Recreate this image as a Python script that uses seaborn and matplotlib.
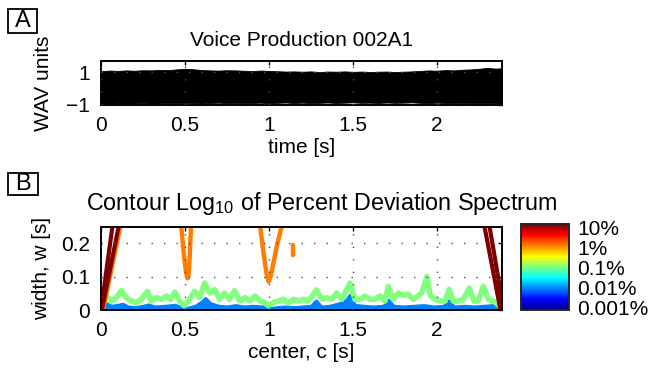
import matplotlib
matplotlib.use("Agg")
import matplotlib.pyplot as plt
import matplotlib.patches as mpatches
from matplotlib.colors import Normalize, LinearSegmentedColormap
from matplotlib.cm import ScalarMappable
import seaborn as sns

# ---- panel A: waveform envelope ----
wav_time = [0.0, 0.05, 0.1, 0.15, 0.2, 0.25, 0.3, 0.35, 0.4, 0.45, 0.5, 0.55, 0.6,
            0.65, 0.7, 0.75, 0.8, 0.85, 0.9, 0.95, 1.0, 1.05, 1.1, 1.15, 1.2, 1.25,
            1.3, 1.35, 1.4, 1.45, 1.5, 1.55, 1.6, 1.65, 1.7, 1.75, 1.8, 1.85, 1.9,
            1.95, 2.0, 2.05, 2.1, 2.15, 2.2, 2.25, 2.3, 2.35, 2.387]
wav_upper = [1.05, 1.09, 1.07, 1.1, 1.08, 1.11, 1.1, 1.13, 1.12, 1.16, 1.2, 1.17, 1.12,
             1.1, 1.09, 1.11, 1.1, 1.08, 1.06, 1.09, 1.07, 1.05, 1.03, 1.04, 1.02, 1.04,
             1.0, 1.03, 1.02, 1.04, 1.01, 1.03, 1.0, 1.02, 1.03, 1.0, 1.02, 1.04, 1.07,
             1.1, 1.08, 1.12, 1.1, 1.14, 1.16, 1.2, 1.25, 1.21, 1.23]
wav_lower = [-0.9, -0.92, -0.9, -0.93, -0.91, -0.89, -0.92, -0.9, -0.88, -0.9, -0.87, -0.89, -0.91,
             -0.88, -0.86, -0.89, -0.87, -0.9, -0.88, -0.86, -0.89, -0.87, -0.85, -0.88, -0.86, -0.89,
             -0.87, -0.85, -0.88, -0.86, -0.84, -0.87, -0.86, -0.88, -0.85, -0.87, -0.86, -0.84, -0.87,
             -0.89, -0.86, -0.88, -0.9, -0.87, -0.89, -0.9, -0.88, -0.9, -0.91]

# ---- panel B: contour paths (center c, width w) ----
green_c = [0.0, 0.015, 0.032, 0.061, 0.091, 0.121, 0.15, 0.18, 0.21, 0.24, 0.276, 0.30, 0.33,
           0.36, 0.39, 0.415, 0.44, 0.468, 0.494, 0.52, 0.557, 0.587, 0.617, 0.647, 0.677,
           0.706, 0.736, 0.766, 0.795, 0.827, 0.857, 0.887, 0.917, 0.946, 0.976, 0.996,
           1.026, 1.055, 1.085, 1.115, 1.145, 1.175, 1.204, 1.234, 1.284, 1.314, 1.343,
           1.373, 1.403, 1.433, 1.482, 1.512, 1.542, 1.572, 1.601, 1.631, 1.661, 1.69,
           1.71, 1.74, 1.77, 1.80, 1.83, 1.86, 1.909, 1.94, 1.96, 1.988, 2.018, 2.048,
           2.073, 2.097, 2.127, 2.157, 2.192, 2.22, 2.246, 2.276, 2.306, 2.335, 2.37, 2.387]
green_w = [0.005, 0.03, 0.042, 0.027, 0.037, 0.058, 0.037, 0.027, 0.022, 0.032, 0.056, 0.027, 0.037,
           0.032, 0.042, 0.032, 0.054, 0.027, 0.013, 0.027, 0.056, 0.037, 0.081, 0.051, 0.061,
           0.032, 0.051, 0.032, 0.058, 0.027, 0.037, 0.027, 0.042, 0.027, 0.022, 0.013,
           0.022, 0.027, 0.032, 0.022, 0.032, 0.027, 0.032, 0.027, 0.060, 0.032, 0.037,
           0.032, 0.051, 0.032, 0.081, 0.032, 0.032, 0.042, 0.032, 0.032, 0.042, 0.027,
           0.071, 0.032, 0.051, 0.044, 0.047, 0.032, 0.051, 0.100, 0.044, 0.032, 0.027, 0.027,
           0.062, 0.027, 0.027, 0.032, 0.066, 0.027, 0.027, 0.071, 0.032, 0.027, 0.013, 0.005]

blue_c = [0, 0.03, 0.06, 0.1, 0.13, 0.16, 0.2, 0.25, 0.28, 0.32, 0.38, 0.44, 0.5, 0.56, 0.6,
          0.62, 0.65, 0.7, 0.75, 0.8, 0.85, 0.9, 0.96, 1.0, 1.05, 1.1, 1.15, 1.2, 1.25, 1.28,
          1.31, 1.36, 1.42, 1.46, 1.48, 1.51, 1.56, 1.62, 1.68, 1.71, 1.74, 1.8, 1.86, 1.92,
          1.98, 2.04, 2.07, 2.1, 2.16, 2.22, 2.28, 2.33, 2.37, 2.387]
blue_w = [0.012, 0.02, 0.012, 0.015, 0.018, 0.01, 0.008, 0.012, 0.016, 0.01, 0.012, 0.015, 0.004,
          0.012, 0.025, 0.035, 0.02, 0.012, 0.01, 0.014, 0.01, 0.012, 0.01, 0.005, 0.008, 0.01,
          0.008, 0.01, 0.012, 0.028, 0.01, 0.012, 0.02, 0.03, 0.045, 0.015, 0.012, 0.01, 0.012,
          0.03, 0.012, 0.01, 0.012, 0.014, 0.01, 0.012, 0.028, 0.01, 0.012, 0.01, 0.012, 0.014,
          0.025, 0.005]

orange_paths = {
    "u_05": ([0.478, 0.487, 0.497, 0.507, 0.515, 0.522, 0.527, 0.531, 0.536],
             [0.25, 0.2, 0.15, 0.11, 0.095, 0.11, 0.15, 0.2, 0.25]),
    "v_10": ([0.948, 0.96, 0.973, 0.987, 0.998, 1.012, 1.03, 1.05, 1.075],
             [0.25, 0.2, 0.15, 0.105, 0.085, 0.105, 0.15, 0.2, 0.25]),
    "blob": ([1.14, 1.14], [0.165, 0.195]),
    "edge_left": ([0.012, 0.115], [0.0, 0.25]),
}
darkred_paths = {
    "left_a": ([0.0, 0.068], [0.0, 0.25]),
    "left_b": ([0.005, 0.105], [0.0, 0.25]),
    "right_a": ([2.283, 2.378], [0.25, 0.0]),
    "right_b": ([2.313, 2.387], [0.25, 0.03]),
}

# log10 level of each contour family
level_darkred, level_orange, level_green, level_blue = 1, 0, -1, -2

cbar_ticks = [1, 0, -1, -2, -3]
cbar_labels = ["10%", "1%", "0.1%", "0.01%", "0.001%"]
x_ticks = [0, 0.5, 1, 1.5, 2]
x_tick_labels = ["0", "0.5", "1", "1.5", "2"]

sns.set_style("white")
plt.rcParams["font.family"] = ["Liberation Sans", "DejaVu Sans"]
plt.rcParams["mathtext.fontset"] = "custom"
plt.rcParams["mathtext.rm"] = "Liberation Sans"
plt.rcParams["mathtext.default"] = "regular"
plt.rcParams["font.size"] = 15
plt.rcParams["text.color"] = "black"
plt.rcParams["axes.labelcolor"] = "black"

# MATLAB style jet
cmap = LinearSegmentedColormap("mjet", {
    "red": [(0, 0, 0), (0.375, 0, 0), (0.625, 1, 1), (0.875, 1, 1), (1, 0.5, 0.5)],
    "green": [(0, 0, 0), (0.125, 0, 0), (0.375, 1, 1), (0.625, 1, 1), (0.875, 0, 0), (1, 0, 0)],
    "blue": [(0, 0.5, 0.5), (0.125, 1, 1), (0.375, 1, 1), (0.625, 0, 0), (1, 0, 0)],
})
norm = Normalize(-3, 1)

fig = plt.figure(figsize=(6.49, 3.73), dpi=100)
W, H = 649, 373


def fig_rect(x0, y0, x1, y1):
    return [x0 / W, 1 - y1 / H, (x1 - x0) / W, (y1 - y0) / H]


axA = fig.add_axes(fig_rect(101, 61, 502, 105))
axB = fig.add_axes(fig_rect(101, 227, 502, 310))
cax = fig.add_axes(fig_rect(521, 224, 569, 310))

grid_kw = dict(color="0.3", linestyle=(0, (1, 8)), linewidth=1.0)

# panel A
axA.fill_between(wav_time, wav_lower, wav_upper, color="black", linewidth=0.6, zorder=1)
axA.set_xlim(0, 2.387)
axA.set_ylim(-1, 1.67)
axA.set_yticks([-1, 1])
axA.set_yticklabels(["\u22121", "1"])
axA.set_xticks(x_ticks)
axA.set_xticklabels(x_tick_labels)
axA.set_title("Voice Production 002A1", pad=11, fontsize=15)
axA.set_xlabel("time [s]")
axA.set_ylabel("WAV units")
axA.xaxis.set_label_coords(0.5, -0.74)
axA.yaxis.set_label_coords(-0.12, 0.5)

# panel B
axB.fill_between(blue_c, 0, blue_w, color=cmap(norm(level_blue)), linewidth=2.5,
                 edgecolor=cmap(norm(level_blue)), zorder=1)
sns.lineplot(x=green_c, y=green_w, sort=False, estimator=None, ax=axB,
             color=cmap(norm(level_green)), linewidth=4.0, solid_joinstyle="round",
             solid_capstyle="round")
for c, w in orange_paths.values():
    sns.lineplot(x=c, y=w, sort=False, estimator=None, ax=axB,
                 color=cmap(norm(level_orange)), linewidth=3.2, solid_capstyle="round")
for c, w in darkred_paths.values():
    sns.lineplot(x=c, y=w, sort=False, estimator=None, ax=axB,
                 color=cmap(norm(level_darkred)), linewidth=3.0)
axB.set_xlim(0, 2.387)
axB.set_ylim(0, 0.249)
axB.set_xticks(x_ticks)
axB.set_xticklabels(x_tick_labels)
axB.set_yticks([0, 0.1, 0.2])
axB.set_yticklabels(["0", "0.1", "0.2"])
axB.set_title("Contour Log$_{10}$ of Percent Deviation Spectrum", x=0.551, pad=12,
              fontsize=16.8)
axB.set_xlabel("center, c [s]")
axB.set_ylabel("width, w [s]")
axB.xaxis.set_label_coords(0.5, -0.40)
axB.yaxis.set_label_coords(-0.125, 0.5)

for ax in (axA, axB):
    ax.grid(True, **grid_kw)
    ax.set_axisbelow(False)
    ax.tick_params(direction="in", length=3, width=1, top=True, right=True,
                   labelsize=15, pad=8, colors="black")
    for s in ax.spines.values():
        s.set_linewidth(1.4)
        s.set_color("black")

# colorbar
cb = fig.colorbar(ScalarMappable(norm=Normalize(-3.1, 1.15), cmap=cmap), cax=cax,
                  ticks=cbar_ticks)
cb.ax.set_yticklabels(cbar_labels)
cb.ax.tick_params(length=0, pad=6, labelsize=15, colors="black")
cb.outline.set_linewidth(1.4)

# panel letters
for letter, (x0, y0, x1, y1) in {"A": (8, 9, 37, 33), "B": (8, 173, 38, 195)}.items():
    fig.patches.append(mpatches.Rectangle((x0 / W, 1 - y1 / H), (x1 - x0) / W, (y1 - y0) / H,
                                          transform=fig.transFigure, fill=False,
                                          linewidth=1.3, edgecolor="black"))
    fig.text((x0 + x1) / 2 / W, 1 - (y0 + y1) / 2 / H, letter, ha="center", va="center",
             fontsize=17)

fig.savefig("out.png", dpi=100)
